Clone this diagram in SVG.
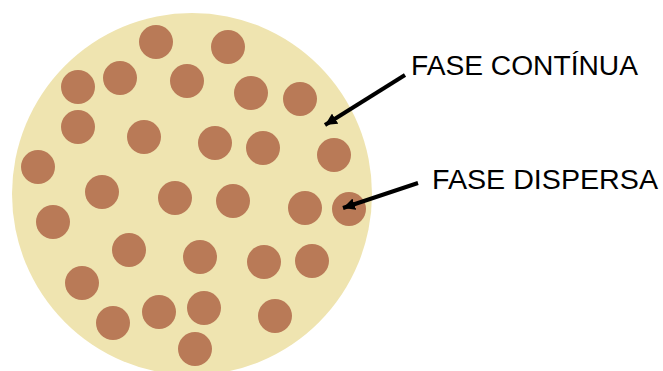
<svg xmlns="http://www.w3.org/2000/svg" width="663" height="371" viewBox="0 0 663 371">
<style>
.d{fill:#B97A57}
.lbl{font-family:"Liberation Sans",Arial,sans-serif;font-size:27px;fill:#000}
.arr{stroke:#000;stroke-width:4;fill:none;marker-end:url(#ah)}
</style>
<defs>
<marker id="ah" markerUnits="userSpaceOnUse" markerWidth="14" markerHeight="12" refX="12" refY="6" orient="auto">
<path d="M0,0 L12,6 L0,12 Z" fill="#000"/>
</marker>
</defs>
<rect width="663" height="371" fill="#fff"/>
<g id="continua">
<ellipse cx="192" cy="194" rx="180" ry="181" fill="#EFE4B0"/>
</g>
<g id="dispersa">
<circle class="d" cx="156" cy="42" r="17"/>
<circle class="d" cx="228" cy="47" r="17"/>
<circle class="d" cx="78" cy="87" r="17"/>
<circle class="d" cx="120" cy="78" r="17"/>
<circle class="d" cx="187" cy="81" r="17"/>
<circle class="d" cx="251" cy="93" r="17"/>
<circle class="d" cx="300" cy="99" r="17"/>
<circle class="d" cx="78" cy="127" r="17"/>
<circle class="d" cx="144" cy="137" r="17"/>
<circle class="d" cx="215" cy="143" r="17"/>
<circle class="d" cx="263" cy="148" r="17"/>
<circle class="d" cx="334" cy="155" r="17"/>
<circle class="d" cx="38" cy="167" r="17"/>
<circle class="d" cx="102" cy="192" r="17"/>
<circle class="d" cx="175" cy="198" r="17"/>
<circle class="d" cx="233" cy="201" r="17"/>
<circle class="d" cx="305" cy="208" r="17"/>
<circle class="d" cx="349" cy="209" r="17"/>
<circle class="d" cx="53" cy="222" r="17"/>
<circle class="d" cx="129" cy="250" r="17"/>
<circle class="d" cx="200" cy="257" r="17"/>
<circle class="d" cx="264" cy="262" r="17"/>
<circle class="d" cx="312" cy="261" r="17"/>
<circle class="d" cx="82" cy="283" r="17"/>
<circle class="d" cx="113" cy="323" r="17"/>
<circle class="d" cx="159" cy="312" r="17"/>
<circle class="d" cx="204" cy="308" r="17"/>
<circle class="d" cx="275" cy="316" r="17"/>
<circle class="d" cx="195" cy="349" r="17"/>
</g>
<g id="connectors">
<line class="arr" x1="405" y1="75" x2="325" y2="125"/>
<line class="arr" x1="418" y1="183" x2="343" y2="208"/>
</g>
<g id="label-continua">
<text class="lbl" x="411" y="75" textLength="227" lengthAdjust="spacingAndGlyphs">FASE CONTÍNUA</text>
</g>
<g id="label-dispersa">
<text class="lbl" x="432" y="189" textLength="226" lengthAdjust="spacingAndGlyphs">FASE DISPERSA</text>
</g>
</svg>
